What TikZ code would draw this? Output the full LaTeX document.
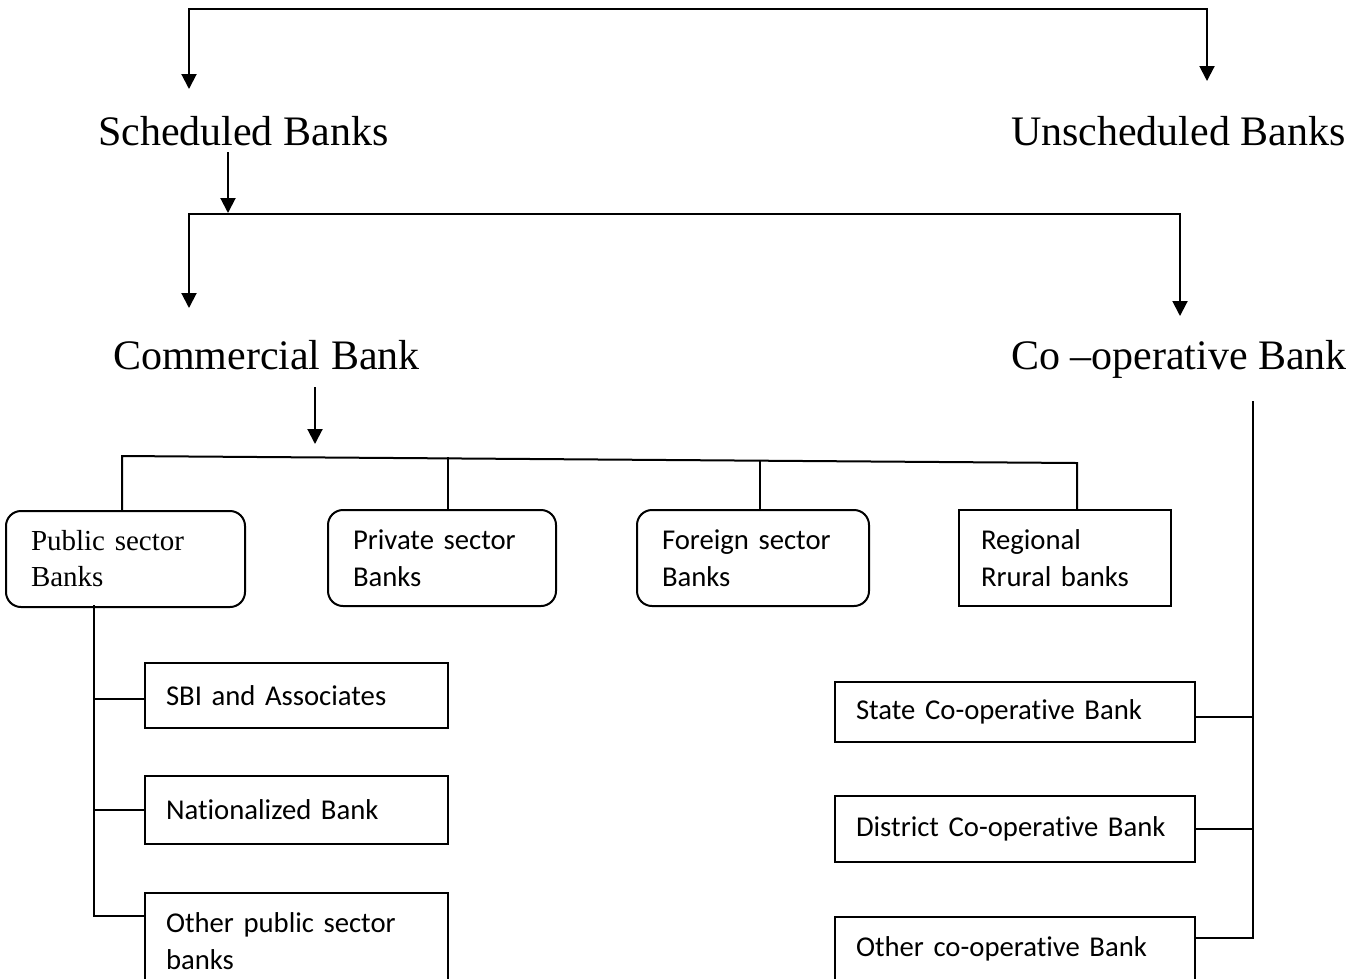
\documentclass[tikz,border=0pt]{standalone}
\usepackage{fontspec}
\setmainfont{Liberation Serif}
\newfontfamily\boxfont{Carlito}[Ligatures={NoCommon,NoContextual},RawFeature={-liga;-clig},WordSpace=0.85]
\usetikzlibrary{arrows.meta}
\begin{document}
\begin{tikzpicture}[x=1pt,y=-1pt,
  line width=2pt, line cap=rect,
  arr/.style={-{Triangle[width=15pt,length=15pt]}},
  title/.style={inner sep=0pt, anchor=base west, font=\fontsize{42}{50}\selectfont},
  rbox/.style={draw, rounded corners=15pt, align=left, inner ysep=0pt},
  sbox/.style={draw, align=left, inner ysep=0pt},
  cal/.style={font=\boxfont\fontsize{28.7}{37}\selectfont},
  tms/.style={font=\fontsize{29}{36}\selectfont},
]
\useasboundingbox (0,0) rectangle (1364,978);
\clip (0,0) rectangle (1364,978);

% titles
\node[title] (sched) at (97,145) {Scheduled Banks};
\node[title] (unsched) at (1010,145) {Unscheduled Banks};
\node[title] (comm) at (112,369) {Commercial Bank};
\node[title] (coop) at (1010,369) {Co –operative Bank};

% sector boxes
\node[rbox,tms,minimum width=239pt,minimum height=96pt,text width=189pt,inner xsep=25pt] (pub) at (125.5,559) {Public sector\\Banks};
\node[rbox,cal,minimum width=228pt,minimum height=96pt,text width=178pt,inner xsep=25pt] (priv) at (442,558) {Private sector\\Banks};
\node[rbox,cal,minimum width=232pt,minimum height=96pt,text width=182pt,inner xsep=25pt] (forn) at (753,558) {Foreign sector\\Banks};
\node[sbox,cal,minimum width=212pt,minimum height=96pt,text width=168pt,inner xsep=22pt] (rrb) at (1065,558) {Regional\\Rrural banks};

% public sub boxes
\node[sbox,cal,minimum width=303pt,minimum height=65pt,text width=261pt,inner xsep=21pt] (sbi) at (296.5,695.5) {SBI and Associates};
\node[sbox,cal,minimum width=303pt,minimum height=68pt,text width=261pt,inner xsep=21pt] (nat) at (296.5,810) {Nationalized Bank};
\node[sbox,cal,minimum width=303pt,minimum height=97pt,text width=261pt,inner xsep=21pt] (opub) at (296.5,941.5) {Other public sector\\banks};

% co-op sub boxes
\node[sbox,cal,minimum width=360pt,minimum height=60pt,text width=318pt,inner xsep=21pt] (state) at (1015,712) {State Co-operative Bank};
\node[sbox,cal,minimum width=360pt,minimum height=66pt,text width=318pt,inner xsep=21pt] (dist) at (1015,829) {District Co-operative Bank};
\node[sbox,cal,minimum width=360pt,minimum height=63pt,text width=318pt,inner xsep=21pt] (ocoop) at (1015,948.5) {Other co-operative Bank};

% top bar
\coordinate (t1) at (189,9);
\coordinate (t2) at (1207,9);
\coordinate (t1e) at (189,89);
\coordinate (t2e) at (1207,81);
\draw[arr] (t2) -- (t1) -- (t1e);
\draw[arr] (t2) -- (t2e);

% scheduled -> bar
\coordinate (s1) at (228,153);
\coordinate (s2) at (228,213);
\draw[arr] (s1) -- (s2);
\coordinate (m1) at (189,214);
\coordinate (m2) at (1180,214);
\coordinate (m1e) at (189,308);
\coordinate (m2e) at (1180,316);
\draw[arr] (m2) -- (m1) -- (m1e);
\draw[arr] (m1) -- (m2) -- (m2e);

% commercial -> bar
\coordinate (c0) at (315,388);
\coordinate (c0e) at (315,444);
\draw[arr] (c0) -- (c0e);
\coordinate (c1) at (122,456);
\coordinate (c2) at (448,458.4);
\coordinate (c3) at (760,460.7);
\coordinate (c4) at (1077,463);
\draw (c1 |- pub.north) -- (c1) -- (c4) -- (c4 |- rrb.north);
\draw (c2) -- (c2 |- priv.north);
\draw (c3) -- (c3 |- forn.north);

% public spine
\coordinate (ps) at (94,606);
\coordinate (p1) at (94,699);
\coordinate (p2) at (94,810);
\coordinate (p3) at (94,916);
\draw (ps) -- (p3);
\draw (p1) -- (p1 -| sbi.west);
\draw (p2) -- (p2 -| nat.west);
\draw (p3) -- (p3 -| opub.west);

% co-op spine
\coordinate (qs) at (1253,402);
\coordinate (q1) at (1253,717);
\coordinate (q2) at (1253,829);
\coordinate (q3) at (1253,938);
\draw (qs) -- (q3);
\draw (q1) -- (q1 -| state.east);
\draw (q2) -- (q2 -| dist.east);
\draw (q3) -- (q3 -| ocoop.east);
\end{tikzpicture}
\end{document}
